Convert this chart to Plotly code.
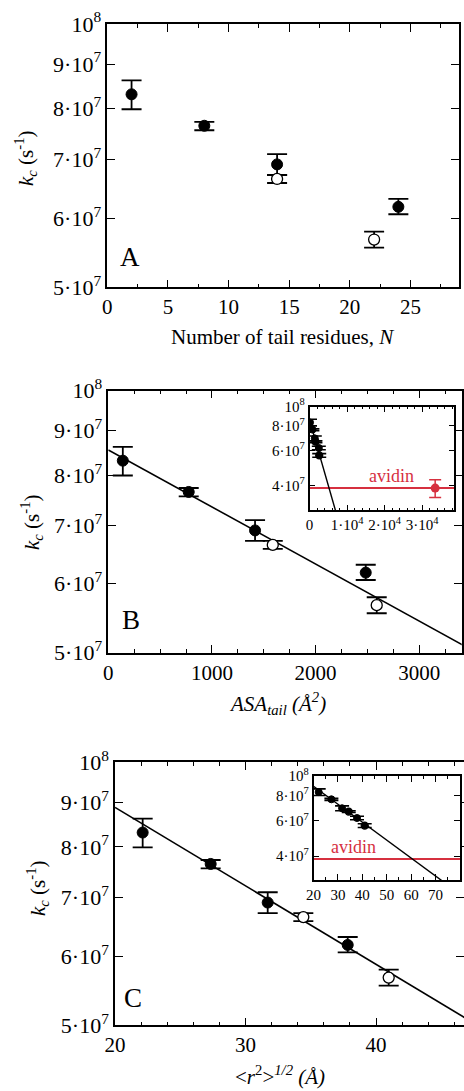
import math
import plotly.graph_objects as go

W, H = 464, 1091

# ---------------- data ----------------
# rate constants (s^-1), filled (solid) and open symbols
k_filled = [8.31e7, 7.65e7, 6.91e7, 6.18e7]
k_filled_hi = [8.62e7, 7.73e7, 7.10e7, 6.31e7]
k_filled_lo = [7.99e7, 7.56e7, 6.72e7, 6.06e7]
k_open = [6.65e7, 5.67e7]
k_open_hi = [6.72e7, 5.79e7]
k_open_lo = [6.58e7, 5.55e7]

N_filled = [2, 8, 14, 24]
N_open = [14, 22]

asa_filled = [140, 776, 1416, 2484]
asa_open = [1587, 2590]

r_filled = [22.12, 27.33, 31.70, 37.83]
r_open = [34.43, 40.97]

# fitted lines (endpoints)
fitB_x = [0, 3450]
fitB_k = [8.55e7, 5.08e7]
fitB_inset_x = [0, 7000]
fitB_inset_k = [8.55e7, 2.96e7]
fitC_x = [20, 47]
fitC_k = [8.88e7, 5.08e7]
fitC_inset_x = [20, 80]
fitC_inset_k = [8.88e7, 2.60e7]

# avidin
avidin_asa = [33500]
avidin_k = [3.88e7]
avidin_hi = [4.28e7]
avidin_lo = [3.48e7]
avidin_line_k = 3.88e7

ytick_vals = [5e7, 6e7, 7e7, 8e7, 9e7, 1e8]
ytick_text = ["5·10<sup>7</sup>", "6·10<sup>7</sup>", "7·10<sup>7</sup>",
              "8·10<sup>7</sup>", "9·10<sup>7</sup>", "10<sup>8</sup>"]
inset_ytick_vals = [4e7, 6e7, 8e7, 1e8]
inset_ytick_text = ["4·10<sup>7</sup>", "6·10<sup>7</sup>", "8·10<sup>7</sup>", "10<sup>8</sup>"]
insetB_xtick_vals = [0, 10000, 20000, 30000]
insetB_xtick_text = ["0", "1·10<sup>4</sup>", "2·10<sup>4</sup>", "3·10<sup>4</sup>"]

# ---------------- helpers ----------------
FONT = "Liberation Serif"
RED = "#d6303f"


def err(v, hi, lo):
    return dict(type="data", symmetric=False,
                array=[h - x for h, x in zip(hi, v)],
                arrayminus=[x - l for l, x in zip(lo, v)])


def px_x(a, b):
    return [a / W, min(b / W, 1.0)]


def px_y(top, bottom):
    return [1 - bottom / H, 1 - top / H]


fig = go.Figure()


def add_points(xa, ya, xf, xo, size=11, cap=10, ew=1.8, inset=False):
    e = err(k_filled, k_filled_hi, k_filled_lo)
    e.update(color="black", thickness=ew, width=cap)
    fig.add_trace(go.Scatter(x=xf, y=k_filled, mode="markers", xaxis=xa, yaxis=ya,
                             marker=dict(color="black", size=size, line=dict(color="black", width=1)),
                             error_y=e, showlegend=False))
    e2 = err(k_open, k_open_hi, k_open_lo)
    e2.update(color="black", thickness=ew, width=cap)
    fill = "black" if inset else "white"
    fig.add_trace(go.Scatter(x=xo, y=k_open, mode="markers", xaxis=xa, yaxis=ya,
                             marker=dict(color=fill, size=size, line=dict(color="black", width=1.3)),
                             error_y=e2, showlegend=False))


# Panel A
add_points("x", "y", N_filled, N_open)

# Panel B
fig.add_trace(go.Scatter(x=fitB_x, y=fitB_k, mode="lines", xaxis="x2", yaxis="y2",
                         line=dict(color="black", width=1.6), showlegend=False))
add_points("x2", "y2", asa_filled, asa_open)

# Inset B
fig.add_trace(go.Scatter(x=[0, 40000], y=[avidin_line_k, avidin_line_k], mode="lines",
                         xaxis="x3", yaxis="y3", line=dict(color=RED, width=2), showlegend=False))
fig.add_trace(go.Scatter(x=fitB_inset_x, y=fitB_inset_k, mode="lines", xaxis="x3", yaxis="y3",
                         line=dict(color="black", width=1.4), showlegend=False))
add_points("x3", "y3", asa_filled, asa_open, size=7, cap=7, ew=1.6, inset=True)
ea = err(avidin_k, avidin_hi, avidin_lo)
ea.update(color=RED, thickness=1.5, width=6)
fig.add_trace(go.Scatter(x=avidin_asa, y=avidin_k, mode="markers", xaxis="x3", yaxis="y3",
                         marker=dict(color=RED, size=9), error_y=ea, showlegend=False))

# Panel C
fig.add_trace(go.Scatter(x=fitC_x, y=fitC_k, mode="lines", xaxis="x4", yaxis="y4",
                         line=dict(color="black", width=1.6), showlegend=False))
add_points("x4", "y4", r_filled, r_open)

# Inset C
fig.add_trace(go.Scatter(x=[20, 80], y=[avidin_line_k, avidin_line_k], mode="lines",
                         xaxis="x5", yaxis="y5", line=dict(color=RED, width=2), showlegend=False))
fig.add_trace(go.Scatter(x=fitC_inset_x, y=fitC_inset_k, mode="lines", xaxis="x5", yaxis="y5",
                         line=dict(color="black", width=1.4), showlegend=False))
add_points("x5", "y5", r_filled, r_open, size=7, cap=7, ew=1.6, inset=True)


# ---------------- axes ----------------
def xax(domain, rng, anchor, dtick, minor, size=21, tickvals=None, ticktext=None, ticklen=8):
    d = dict(domain=domain, range=rng, anchor=anchor, showgrid=False, zeroline=False,
             automargin=False,
             showline=True, linecolor="black", linewidth=1.5, mirror="allticks",
             ticks="inside", ticklen=ticklen, tickwidth=1.3, tickcolor="black",
             tickfont=dict(family=FONT, size=size, color="black"),
             minor=dict(dtick=minor, ticks="inside", ticklen=ticklen / 2, tickwidth=1.2,
                        tickcolor="black", showgrid=False))
    if tickvals is not None:
        d.update(tickmode="array", tickvals=tickvals, ticktext=ticktext)
    else:
        d.update(tick0=0, dtick=dtick)
    return d


def yax(domain, rng, anchor, vals, text, size=22, ticklen=8):
    return dict(domain=domain, type="log", range=[math.log10(rng[0]), math.log10(rng[1])],
                anchor=anchor, showgrid=False, zeroline=False, automargin=False,
                showline=True, linecolor="black", linewidth=1.5, mirror="allticks",
                ticks="inside", ticklen=ticklen, tickwidth=1.3, tickcolor="black",
                tickmode="array", tickvals=vals, ticktext=text,
                tickfont=dict(family=FONT, size=size, color="black"))


layout = dict(
    template="none",
    width=W, height=H, margin=dict(l=0, r=0, t=0, b=0, pad=0, autoexpand=False),
    paper_bgcolor="white", plot_bgcolor="white", showlegend=False,
    font=dict(family=FONT, color="black"),
    xaxis=xax(px_x(107.3, 459), [0, 29], "y", 5, 2.5),
    yaxis=yax(px_y(24, 287.3), [5e7, 1e8], "x", ytick_vals, ytick_text),
    xaxis2=xax(px_x(108.3, 461.7), [0, 3410], "y2", 1000, 250),
    yaxis2=yax(px_y(390.7, 652.7), [5e7, 1e8], "x2", ytick_vals, ytick_text),
    xaxis3=xax(px_x(309.5, 454.3), [0, 38600], "y3", None, 2000, size=15,
               tickvals=insetB_xtick_vals, ticktext=insetB_xtick_text, ticklen=6),
    yaxis3=yax(px_y(406.5, 510.3), [3.0e7, 1e8], "x3", inset_ytick_vals, inset_ytick_text,
               size=15, ticklen=6),
    xaxis4=xax(px_x(115, 464), [20, 46.74], "y4", 10, 2),
    yaxis4=yax(px_y(762.3, 1025.3), [5e7, 1e8], "x4", ytick_vals, ytick_text),
    xaxis5=xax(px_x(313.5, 460), [20, 80], "y5", 10, 5, size=15, ticklen=6),
    yaxis5=yax(px_y(775.8, 880), [3.05e7, 1e8], "x5", inset_ytick_vals, inset_ytick_text,
               size=15, ticklen=6),
)
fig.update_layout(**layout)


def ann(text, x, y, size=21, color="black", angle=0):
    fig.add_annotation(text=text, x=x / W, y=1 - y / H, xref="paper", yref="paper",
                       showarrow=False, textangle=angle, xanchor="center", yanchor="middle",
                       font=dict(family=FONT, size=size, color=color))


ylab = "<i>k<sub>c</sub></i> (s<sup>-1</sup>)"
ann(ylab, 25, 158, angle=-90)
ann(ylab, 31, 522, angle=-90)
ann(ylab, 37, 888, angle=-90)

ann("Number of tail residues, <i>N</i>", 282, 337)
ann("<i>ASA<sub>tail</sub> (Å<sup>2</sup>)</i>", 277, 703)
ann("&lt;<i>r</i><sup>2</sup>&gt;<sup><i>1/2</i></sup> <i>(Å)</i>", 280, 1075)

ann("A", 130, 257, size=27)
ann("B", 131, 620, size=27)
ann("C", 133, 998, size=27)

ann("avidin", 391, 476, size=18, color=RED)
ann("avidin", 353, 847, size=18, color=RED)

fig.write_html("out.html")
